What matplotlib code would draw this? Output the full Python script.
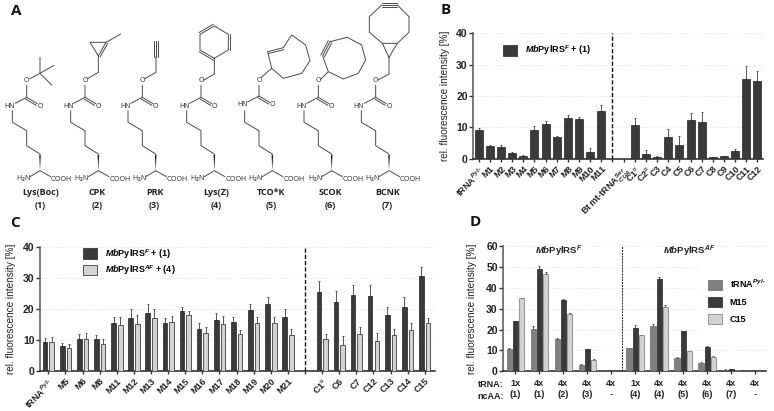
import matplotlib
matplotlib.use("Agg")
import matplotlib.pyplot as plt
import numpy as np
from matplotlib.patches import Polygon, Patch

plt.rcParams.update({
    "font.family": ["Liberation Sans", "DejaVu Sans"], "font.weight": "bold",
    "mathtext.fontset": "custom", "mathtext.rm": "Liberation Sans:bold",
    "mathtext.it": "Liberation Sans:italic:bold", "mathtext.bf": "Liberation Sans:bold",
    "mathtext.fallback": "stix", "axes.unicode_minus": False,
})

# ---- data ----
b_labels = ["tRNA$^{Pyl_*}$", "M1", "M2", "M3", "M4", "M5", "M6", "M7", "M8", "M9", "M10", "M11", "",
            "Bt mt-tRNA$^{Ser}_{CUA}$", "C1$^{\\triangledown}$", "C2$^{\\triangledown}$", "C3", "C4", "C5", "C6", "C7", "C8", "C9",
            "C10", "C11", "C12"]
b_values = [9.1, 4.0, 3.8, 1.9, 0.9, 9.1, 11.2, 6.8, 13.0, 12.6, 2.1, 15.1, 0,
            0, 10.6, 1.6, 0.7, 7.0, 4.5, 12.4, 11.7, 0.4, 0.8, 2.6, 25.4, 24.9]
b_tops = [9.8, 4.5, 4.3, 2.1, 1.2, 10.3, 12.1, 7.1, 14.0, 13.2, 3.3, 17.2, 0,
          0, 12.9, 2.7, 1.0, 9.4, 7.2, 14.5, 14.8, 0.6, 1.0, 3.0, 29.7, 28.0]

c_labels = ["tRNA$^{Pyl_*}$", "M5", "M6", "M8", "M11", "M12", "M13", "M14", "M15", "M16", "M17", "M18",
            "M19", "M20", "M21", "", "C1$^{\\triangledown}$", "C6", "C7", "C12", "C13", "C14", "C15"]
c_f = [9.2, 8.0, 10.3, 10.2, 15.4, 17.1, 18.8, 15.5, 19.2, 13.6, 16.3, 15.8, 19.6, 21.5, 17.3, 0,
       25.3, 22.3, 24.3, 24.1, 18.1, 20.7, 30.7]
c_f_tops = [10.7, 9.1, 11.9, 11.6, 17.5, 19.8, 21.7, 17.2, 20.7, 15.6, 18.6, 17.5, 21.6, 23.9, 20.1, 0,
            29.0, 25.8, 27.8, 27.7, 20.6, 23.7, 33.4]
c_af = [9.3, 7.5, 10.3, 8.8, 14.9, 15.2, 16.9, 15.9, 17.9, 12.1, 15.0, 11.8, 15.3, 15.3, 11.5, 0,
        10.2, 8.5, 12.0, 9.5, 11.5, 13.1, 15.5]
c_af_tops = [10.9, 8.6, 12.3, 10.4, 17.5, 18.0, 20.0, 17.8, 19.4, 14.3, 17.8, 13.2, 17.3, 17.4, 13.4, 0,
             11.8, 11.3, 14.0, 12.1, 13.4, 15.3, 16.9]

d_trna = ["1x", "4x", "4x", "4x", "4x", "1x", "4x", "4x", "4x", "4x", "4x"]
d_ncaa = ["(1)", "(1)", "(2)", "(3)", "-", "(4)", "(4)", "(5)", "(6)", "(7)", "-"]
d_t = [10.8, 20.4, 15.4, 3.2, 0, 11.0, 21.7, 6.2, 4.0, 0.8, 0]
d_t_tops = [11.0, 21.5, 15.9, 3.4, 0, 11.1, 22.7, 6.9, 4.3, 1.0, 0]
d_m = [24.0, 49.0, 34.0, 10.5, 0, 20.8, 44.2, 19.3, 11.8, 1.0, 0]
d_m_tops = [24.3, 50.3, 34.4, 10.7, 0, 22.1, 45.0, 19.5, 12.0, 1.2, 0]
d_c = [35.0, 46.6, 27.4, 5.4, 0, 17.3, 31.0, 9.6, 6.9, 0.4, 0]
d_c_tops = [35.1, 47.4, 27.7, 5.7, 0, 17.6, 31.9, 9.8, 7.1, 0.5, 0]

names = ["Lys(Boc)", "CPK", "PRK", "Lys(Z)", "TCO*K", "SCOK", "BCNK"]
numbers = ["(1)", "(2)", "(3)", "(4)", "(5)", "(6)", "(7)"]
name_x = [122, 291, 464, 648, 814, 991, 1163]
alpha_x = [120, 295, 467, 643, 817, 995, 1167]

DARK, LIGHT, MID = "#3a3a3a", "#d2d2d2", "#808080"
W, H = 774, 411
fig = plt.figure(figsize=(W / 100, H / 100), dpi=100, facecolor="white")
ov = fig.add_axes([0, 0, 1, 1]); ov.set_xlim(0, W); ov.set_ylim(H, 0); ov.axis("off")

def px_axes(l, r, t, b):
    ax = fig.add_axes([l / W, 1 - b / H, (r - l) / W, (b - t) / H])
    ax.patch.set_alpha(0)
    return ax

def style(ax, ymax, step, ylab_x):
    for s in ("top", "right"):
        ax.spines[s].set_visible(False)
    ax.spines["left"].set_linewidth(1.1); ax.spines["left"].set_color("#555555")
    ax.spines["bottom"].set_linewidth(1.1); ax.spines["bottom"].set_color("#222222")
    ax.set_ylim(0, ymax); ax.set_yticks(np.arange(0, ymax + 1, step))
    ax.tick_params(axis="y", length=3, width=1, labelsize=7.5, pad=1, color="#333333", labelcolor="#222222")
    ax.tick_params(axis="x", length=2.5, width=1, labelsize=6.5, pad=1.5, color="#333333", labelcolor="#222222")
    ax.yaxis.grid(True, ls=(0, (1, 1.5)), lw=0.5, color="#d8d8d8"); ax.set_axisbelow(True)
    for g in ax.get_ygridlines()[:1]:
        g.set_visible(False)
    ax.set_ylabel("rel. fluorescence intensity [%]", fontsize=7.2, color="#222222")
    ax.yaxis.set_label_coords(ylab_x, 0.5)

def rot_labels(ax, labels):
    ax.set_xticklabels(labels, rotation=45, ha="right", va="top", rotation_mode="anchor")

def bars(ax, x, vals, tops, w, fc, ec, lw=0.5):
    vals, tops = np.array(vals), np.array(tops)
    ax.bar(x, vals, w, color=fc, edgecolor=ec, linewidth=lw, zorder=3)
    m = tops > 0
    ax.errorbar(x[m], vals[m], yerr=[np.zeros(m.sum()), (tops - vals)[m]], fmt="none", ecolor="#555555",
                elinewidth=0.7, capsize=0.9, capthick=0.7, zorder=2.5)

# ---- panel letters ----
for t, x, y in [("A", 16, 11), ("B", 446, 10), ("C", 15, 223), ("D", 475, 222)]:
    ov.text(x, y, t, fontsize=11, family="Open Sans", weight="bold", ha="center", va="center", color="#111111")

# ---- panel A ----
LC = "#4a4a4a"
def P(pts, ax0, lw=0.7):
    xs = [(ax0 + p[0]) / 3 for p in pts]; ys = [p[1] / 3 for p in pts]
    ov.plot(xs, ys, color=LC, lw=lw, solid_capstyle="round", solid_joinstyle="round")

def multi(a, b, ax0, kinds):
    a, b = np.array(a, float), np.array(b, float)
    n = np.array([-(b - a)[1], (b - a)[0]]); n = n / np.hypot(*n) * 6
    for k in kinds:
        P([a + n * k, b + n * k], ax0)

for i, a0 in enumerate(alpha_x):
    dy = -4 if i == 4 else 0
    ov.add_patch(Polygon([(a0 / 3, 512 / 3), ((a0 - 2.5) / 3, 464 / 3), ((a0 + 2.5) / 3, 464 / 3)],
                         closed=True, fc="#222222", ec="none"))
    P([(0, 462), (-40, 437), (-40, 392), (-83, 367), (-83, 332)], a0)
    P([(-74, 310 + dy), (-40, 292 + dy), (-40, 256)], a0)
    multi((-40, 292 + dy), (-8, 311 + dy), a0, [0, 1])
    P([(-30, 530), (0, 512), (32, 530)], a0)
    kw = dict(fontsize=5, weight="normal", ha="center", va="center", color="#333333")
    ov.text((a0 - 90) / 3, (318 + dy) / 3, "HN", **kw)
    ov.text(a0 / 3, (318 + dy) / 3, "O", **kw)
    ov.text((a0 - 40) / 3, 243 / 3, "O", **kw)
    ov.text((a0 - 50) / 3, 538 / 3, "H$_2$N", **kw)
    ov.text((a0 + 65) / 3, 537 / 3, "COOH", **kw)
    ov.text(name_x[i] / 3, 578 / 3, names[i], fontsize=6.5, family="Open Sans", weight="bold", ha="center", va="center", color="#222222")
    ov.text(name_x[i] / 3, 617 / 3, numbers[i], fontsize=6.5, family="Open Sans", weight="bold", ha="center", va="center", color="#222222")

# side chains, relative to each alpha carbon (reference pixels x3)
a = alpha_x
P([(-30, 236), (0, 220), (0, 172)], a[0]); P([(0, 220), (42, 196)], a[0]); P([(0, 220), (35, 255)], a[0])
P([(-32, 236), (0, 217), (0, 168), (-25, 127), (23, 127), (0, 168)], a[1]); P([(23, 127), (67, 102)], a[1])
multi((0, 168), (23, 127), a[1], [1])
P([(-32, 236), (1, 217), (1, 170)], a[2]); multi((1, 170), (1, 122), a[2], [-1, 0, 1])
hexv = [(0, 175), (42, 150), (42, 103), (0, 78), (-43, 103), (-43, 150), (0, 175)]
P([(-33, 241), (0, 222), (0, 175)], a[3]); P(hexv, a[3])
multi(hexv[1], hexv[2], a[3], [1]); multi(hexv[3], hexv[4], a[3], [1]); multi(hexv[5], hexv[0], a[3], [1])
P([(-33, 232), (-2, 205), (-14, 155)], a[4]); multi((-14, 155), (33, 143), a[4], [0, 1])
P([(33, 143), (58, 105), (100, 135), (113, 182), (88, 220), (33, 235), (-2, 205)], a[4])
P([(-33, 238), (-10, 215), (-27, 168)], a[5]); multi((-27, 168), (-5, 125), a[5], [-1, 0, 1])
P([(-5, 125), (47, 112), (90, 135), (102, 180), (80, 220), (35, 237), (-10, 215)], a[5])
P([(-33, 240), (0, 222), (0, 172), (-20, 130), (25, 130), (0, 172)], a[6])
P([(-20, 130), (-59, 97), (-59, 50), (-22, 15)], a[6]); P([(25, 15), (60, 50), (60, 97), (25, 130)], a[6])
multi((-22, 15), (25, 15), a[6], [-1, 0, 1])

# ---- panel B ----
axb = px_axes(473.3, 763, 33.3, 158.7)
style(axb, 40, 10, -0.08)
xb = np.arange(len(b_values), dtype=float)
bars(axb, xb, b_values, b_tops, 0.72, DARK, "#222222")
axb.set_xlim(-0.48, 25.5); axb.set_xticks(xb); rot_labels(axb, b_labels)
axb.plot([12, 12], [0, 40], color="#111111", lw=1.0, ls=(0, (3, 1.5)), zorder=4)
fig.legend(handles=[Patch(fc=DARK, ec="#222222", lw=0.5)], labels=["$\\mathit{Mb}$PylRS$^{F}$ + (1)"],
           loc="center left", bbox_to_anchor=(495 / W, 1 - 50.5 / H), frameon=False, fontsize=6.5,
           handlelength=1.55, handleheight=1.4, handletextpad=0.85)

# ---- panel C ----
axc = px_axes(40, 435, 246.7, 371)
style(axc, 40, 10, -0.06)
xc = np.arange(len(c_f), dtype=float)
mask = np.array(c_f) > 0
bars(axc, xc[mask] - 0.19, np.array(c_f)[mask], np.array(c_f_tops)[mask], 0.27, DARK, "#222222")
bars(axc, xc[mask] + 0.2, np.array(c_af)[mask], np.array(c_af_tops)[mask], 0.27, LIGHT, "#555555", 0.7)
axc.set_xlim(-0.49, 22.6); axc.set_xticks(xc); rot_labels(axc, c_labels)
axc.plot([15, 15], [0, 40], color="#111111", lw=1.0, ls=(0, (3, 1.5)), zorder=4)
fig.legend(handles=[Patch(fc=DARK, ec="#222222", lw=0.5), Patch(fc=LIGHT, ec="#555555", lw=0.7)],
           labels=["$\\mathit{Mb}$PylRS$^{F}$ + (1)", "$\\mathit{Mb}$PylRS$^{AF}$ + (4)"],
           loc="center left", bbox_to_anchor=(75 / W, 1 - 262 / H), frameon=False, fontsize=6.5,
           handlelength=1.55, handleheight=1.4, handletextpad=0.9, labelspacing=0.3)

# ---- panel D ----
axd = px_axes(503.3, 766, 246, 371.3)
style(axd, 60, 10, -0.1)
xd = np.arange(len(d_t), dtype=float)
off = 0.26
for dx, v, tp, fc, ec in [(-off, d_t, d_t_tops, MID, "#666666"), (0, d_m, d_m_tops, DARK, "#222222"),
                          (off, d_c, d_c_tops, LIGHT, "#777777")]:
    bars(axd, xd + dx, v, tp, 0.21, fc, ec)
axd.set_xlim(-0.5, 10.45); axd.set_xticks(xd)
axd.set_xticklabels([f"{t}\n{n}" for t, n in zip(d_trna, d_ncaa)], fontsize=6.6, linespacing=1.3)
axd.tick_params(axis="x", pad=3)
axd.plot([4.46, 4.46], [0, 60], color="#222222", lw=0.7, ls=(0, (2, 1)), zorder=4)
axd.text(1.82, 57.3, "$\\mathit{Mb}$PylRS$^{F}$", fontsize=6.8, ha="center", va="center", color="#222222")
axd.text(7.23, 57.3, "$\\mathit{Mb}$PylRS$^{AF}$", fontsize=6.8, ha="center", va="center", color="#222222")
ov.text(503.5, 384, "tRNA:", fontsize=6.5, ha="right", va="center", color="#222222")
ov.text(503.5, 396.7, "ncAA:", fontsize=6.5, ha="right", va="center", color="#222222")
fig.legend(handles=[Patch(fc=MID, ec="#666666", lw=0.5), Patch(fc=DARK, ec="#222222", lw=0.5),
                    Patch(fc=LIGHT, ec="#777777", lw=0.5)],
           labels=["tRNA$^{Pyl_*}$", "M15", "C15"], loc="center left",
           bbox_to_anchor=(697 / W, 1 - 301 / H), frameon=True, facecolor="white", edgecolor="none",
           framealpha=1, fancybox=False, fontsize=6.5, handlelength=1.55, handleheight=1.25,
           handletextpad=0.8, labelspacing=0.8, borderpad=1.25, borderaxespad=0)

fig.savefig("out.png", dpi=100, facecolor="white")
